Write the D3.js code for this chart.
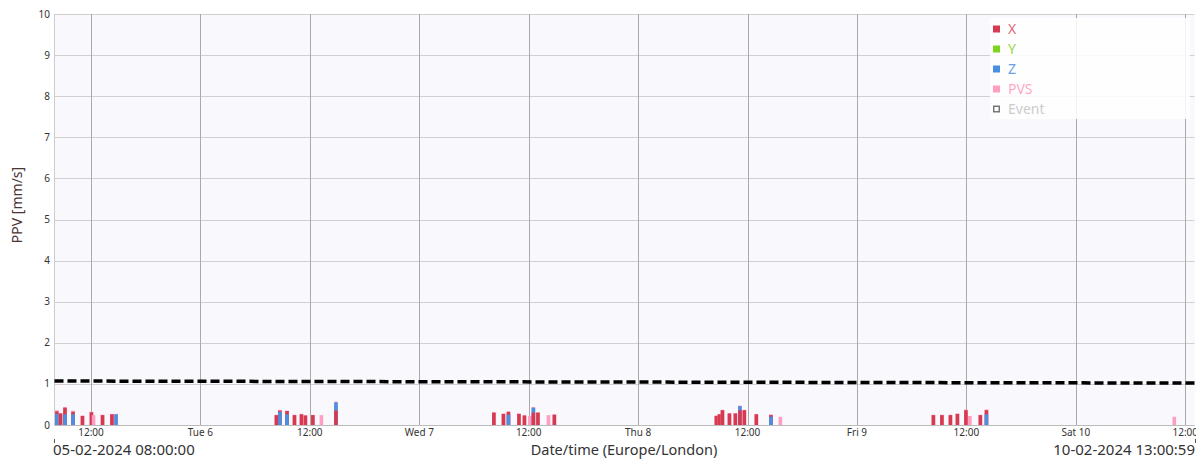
<!DOCTYPE html>
<html>
<head>
<meta charset="utf-8">
<script src="https://cdn.jsdelivr.net/npm/d3@7"></script>
<style>
  body { margin: 0; background: #fff; }
  text { font-family: "Noto Sans", sans-serif; }
</style>
</head>
<body>
<svg id="chart" width="1203" height="459"></svg>
<script>
// event times (Europe/London) and peak values per axis, mm/s
var eventTimes = [
  "2024-02-05T08:16", "2024-02-05T08:40", "2024-02-05T09:09", "2024-02-05T10:02", "2024-02-05T11:04",
  "2024-02-05T12:03", "2024-02-05T12:17", "2024-02-05T13:16", "2024-02-05T14:18", "2024-02-05T14:45",
  "2024-02-06T08:20", "2024-02-06T08:43", "2024-02-06T09:30", "2024-02-06T10:19", "2024-02-06T11:05",
  "2024-02-06T11:31", "2024-02-06T12:20", "2024-02-06T13:16", "2024-02-06T14:52",
  "2024-02-07T08:11", "2024-02-07T09:14", "2024-02-07T09:47", "2024-02-07T10:56", "2024-02-07T11:32",
  "2024-02-07T12:08", "2024-02-07T12:31", "2024-02-07T13:01", "2024-02-07T14:10", "2024-02-07T14:49",
  "2024-02-08T08:35", "2024-02-08T08:55", "2024-02-08T09:15", "2024-02-08T10:01", "2024-02-08T10:40",
  "2024-02-08T11:10", "2024-02-08T11:39", "2024-02-08T12:58", "2024-02-08T14:34", "2024-02-08T15:36",
  "2024-02-09T08:23", "2024-02-09T09:19", "2024-02-09T10:15", "2024-02-09T11:01", "2024-02-09T11:57",
  "2024-02-09T12:23", "2024-02-09T13:32", "2024-02-09T14:12",
  "2024-02-10T10:48"
];
var xVals = [
  0.33, 0.28, 0.42, 0.32, 0.22, 0.31, 0, 0.24, 0.26, 0,
  0.24, 0.35, 0.34, 0.24, 0.26, 0.23, 0.24, 0, 0.35,
  0.30, 0.27, 0.32, 0.27, 0.23, 0, 0.30, 0.30, 0, 0.25,
  0.22, 0.26, 0.36, 0.28, 0.28, 0.36, 0.36, 0.26, 0.24, 0,
  0.24, 0.24, 0.24, 0.27, 0.36, 0, 0.24, 0.36,
  0
];
var yVals = [
  0, 0, 0, 0, 0, 0, 0, 0, 0, 0,
  0, 0, 0, 0, 0, 0, 0, 0, 0,
  0, 0, 0, 0, 0, 0, 0, 0, 0, 0,
  0, 0, 0, 0, 0, 0, 0, 0, 0, 0,
  0, 0, 0, 0, 0, 0, 0, 0,
  0
];
var zVals = [
  0.27, 0, 0.26, 0.26, 0, 0, 0, 0, 0, 0.26,
  0, 0.32, 0.26, 0, 0, 0, 0, 0, 0.55,
  0, 0, 0.25, 0, 0, 0, 0.42, 0, 0, 0,
  0, 0, 0, 0, 0, 0.46, 0, 0, 0.20, 0,
  0, 0, 0, 0, 0, 0, 0, 0.26,
  0
];
var pvsVals = [
  0.36, 0.29, 0.44, 0.35, 0.23, 0.32, 0.24, 0.25, 0.27, 0.27,
  0.25, 0.37, 0.35, 0.25, 0.27, 0.24, 0.25, 0.24, 0.57,
  0.31, 0.28, 0.33, 0.28, 0.24, 0.22, 0.44, 0.31, 0.24, 0.26,
  0.23, 0.27, 0.37, 0.29, 0.29, 0.47, 0.37, 0.27, 0.26, 0.20,
  0.25, 0.25, 0.25, 0.28, 0.38, 0.22, 0.25, 0.38,
  0.20
];
// dashed limit line (start / end)
var limitTimes = ["2024-02-05T08:00:00", "2024-02-10T13:00:59"];
var limitVals = [1.07, 1.02];

var seriesNames = ["X", "Y", "Z", "PVS"];
var seriesColors = ["#d63a50", "#7ed321", "#4a8fe2", "#ff9ec0"];
var legendTextColors = ["#dc6a76", "#94d84a", "#6aa2e4", "#ffa8c6"];
var yTicks = [0, 1, 2, 3, 4, 5, 6, 7, 8, 9, 10];

var parse = d3.timeParse("%Y-%m-%dT%H:%M");
var parseS = d3.timeParse("%Y-%m-%dT%H:%M:%S");
var startT = parseS(limitTimes[0]), endT = parseS(limitTimes[1]);

var plotL = 54.5, plotR = 1194.5, plotT = 14, plotB = 425;
var svg = d3.select("#chart");

var x = d3.scaleTime().domain([startT, endT]).range([plotL, plotR]);
var y = d3.scaleLinear().domain([0, 10]).range([plotB, plotT]);

svg.append("defs").append("clipPath").attr("id", "clip")
  .append("rect").attr("x", 0).attr("y", 0).attr("width", 1196).attr("height", 459);

// plot background
svg.append("rect")
  .attr("x", plotL).attr("y", plotT)
  .attr("width", plotR - plotL).attr("height", plotB - plotT)
  .attr("fill", "#f8f8fd");

// horizontal grid + y labels
svg.append("g").selectAll("line").data(yTicks).enter().append("line")
  .attr("x1", plotL).attr("x2", plotR)
  .attr("y1", d => Math.round(y(d)) + 0.5).attr("y2", d => Math.round(y(d)) + 0.5)
  .attr("stroke", "#d0d0d0").attr("stroke-width", 1);

svg.append("g").selectAll("text").data(yTicks).enter().append("text")
  .attr("x", 50).attr("y", d => y(d) + 3.5)
  .attr("text-anchor", "end")
  .attr("font-size", 10).attr("fill", "#333")
  .text(d => d);

// vertical grid every 12h
var xTicks = d3.timeHour.every(12).range(startT, d3.timeMinute.offset(endT, 1));
svg.append("g").selectAll("line").data(xTicks).enter().append("line")
  .attr("x1", d => Math.round(x(d)) + 0.5).attr("x2", d => Math.round(x(d)) + 0.5)
  .attr("y1", plotT).attr("y2", plotB)
  .attr("stroke", "#aaaaaa").attr("stroke-width", 1);

var fmtDay = d3.timeFormat("%a %-d"), fmtHour = d3.timeFormat("%H:%M");
svg.append("g").attr("clip-path", "url(#clip)")
  .selectAll("text").data(xTicks).enter().append("text")
  .attr("x", d => x(d)).attr("y", 436)
  .attr("text-anchor", "middle")
  .attr("font-size", 10).attr("fill", "#333")
  .text(d => d.getHours() === 0 ? fmtDay(d) : fmtHour(d));

// axis lines
svg.append("line").attr("x1", plotL).attr("x2", plotR)
  .attr("y1", plotB + 0.5).attr("y2", plotB + 0.5).attr("stroke", "#bbb");
svg.append("line").attr("x1", plotL).attr("x2", plotL)
  .attr("y1", plotT).attr("y2", plotB).attr("stroke", "#ccc");

// bars: each event draws its series largest first so every value stays visible
var events = eventTimes.map(function(t, i) {
  var vals = [xVals[i], yVals[i], zVals[i], pvsVals[i]].map((v, k) => ({k: k, v: v}))
    .filter(d => d.v > 0)
    .sort((a, b) => b.v - a.v);
  return {t: parse(t), vals: vals};
});
var barW = 3.6;
var eg = svg.append("g").selectAll("g").data(events).enter().append("g");
eg.selectAll("rect").data(d => d.vals.map(v => ({t: d.t, k: v.k, v: v.v}))).enter().append("rect")
  .attr("x", d => x(d.t) - barW / 2)
  .attr("y", d => y(d.v))
  .attr("width", barW)
  .attr("height", d => y(0) - y(d.v))
  .attr("fill", d => seriesColors[d.k]);

// dashed limit line
var lim = limitTimes.map((t, i) => ({t: parseS(t), v: limitVals[i]}));
svg.append("path").datum(lim)
  .attr("d", d3.line().x(d => x(d.t)).y(d => y(d.v)))
  .attr("fill", "none").attr("stroke", "#000")
  .attr("stroke-width", 3.5).attr("stroke-dasharray", "9,4");

// legend
var lg = svg.append("g");
lg.append("rect").attr("x", 990).attr("y", 18).attr("width", 200).attr("height", 101)
  .attr("fill", "#fff").attr("fill-opacity", 0.85);
var legendItems = seriesNames.concat(["Event"]);
legendItems.forEach(function(name, i) {
  var cy = 29 + i * 20;
  if (i < 4) {
    lg.append("rect").attr("x", 993).attr("y", cy - 3.5).attr("width", 7).attr("height", 7)
      .attr("fill", seriesColors[i]);
  } else {
    lg.append("rect").attr("x", 993.75).attr("y", cy - 2.75).attr("width", 5.5).attr("height", 5.5)
      .attr("fill", "none").attr("stroke", "#777").attr("stroke-width", 1.5);
  }
  lg.append("text").attr("x", 1008).attr("y", cy + 5)
    .attr("font-size", 14)
    .attr("fill", i < 4 ? legendTextColors[i] : "#ccc")
    .text(name);
});

// axis titles
svg.append("text")
  .attr("transform", "translate(22," + 205 + ") rotate(-90)")
  .attr("text-anchor", "middle")
  .attr("font-size", 14).attr("fill", "#4a3434")
  .text("PPV [mm/s]");

svg.append("text").attr("x", 624).attr("y", 455)
  .attr("text-anchor", "middle").attr("font-size", 14.5).attr("fill", "#333")
  .text("Date/time (Europe/London)");

var fmtFull = d3.timeFormat("%d-%m-%Y %H:%M:%S");
svg.append("text").attr("x", 53).attr("y", 455)
  .attr("font-size", 15).attr("fill", "#333")
  .text(fmtFull(startT));
svg.append("text").attr("x", 1195).attr("y", 455)
  .attr("text-anchor", "end").attr("font-size", 15).attr("fill", "#333")
  .text(fmtFull(endT));
svg.append("line").attr("x1", 54.5).attr("x2", 54.5).attr("y1", 439).attr("y2", 443).attr("stroke", "#555");
svg.append("line").attr("x1", 1195.5).attr("x2", 1195.5).attr("y1", 439).attr("y2", 443).attr("stroke", "#555");
</script>
</body>
</html>
